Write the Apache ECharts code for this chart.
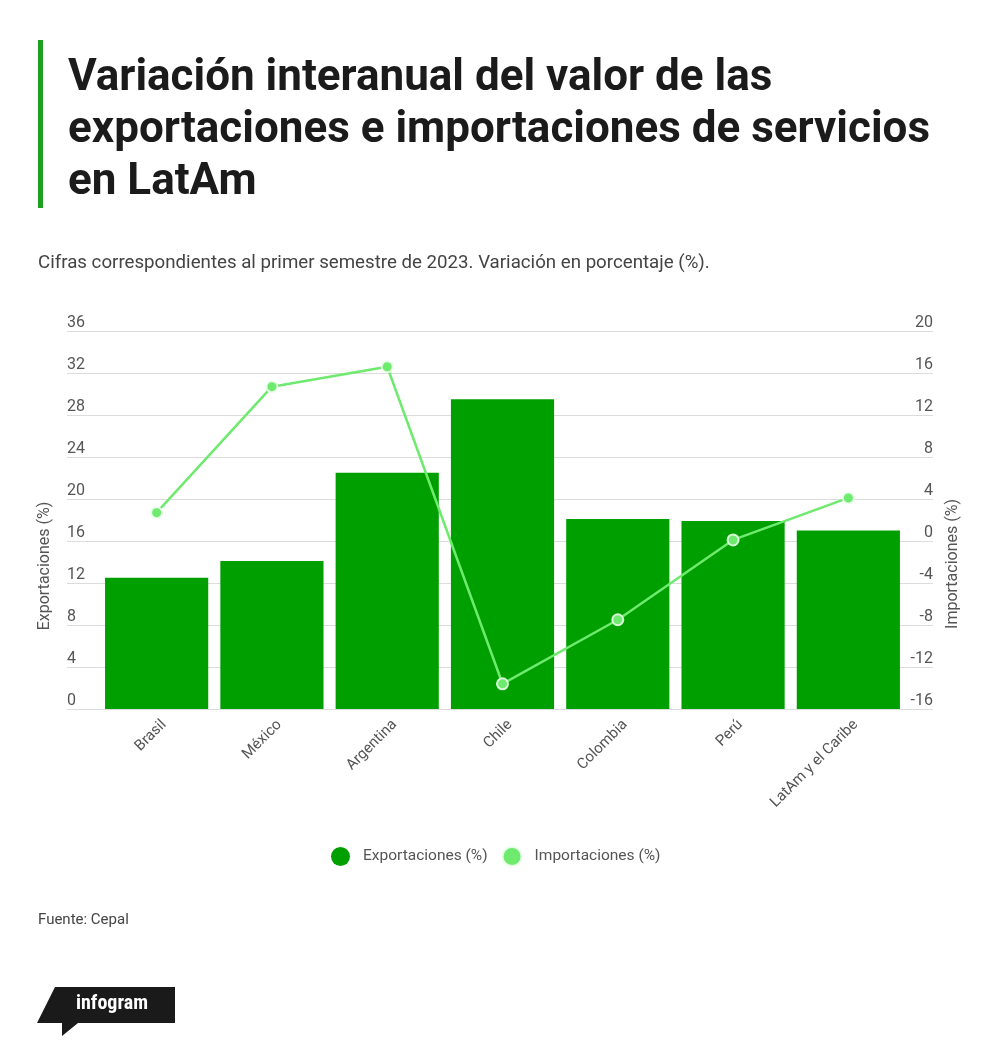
<!DOCTYPE html>
<html>
<head>
<meta charset="utf-8">
<script src="https://cdn.jsdelivr.net/npm/echarts@6/dist/echarts.min.js"></script>
<style>html,body{margin:0;padding:0;background:#fff;}#c{width:1000px;height:1056px;}</style>
</head>
<body>
<div id="c"></div>
<script>
const categories = ['Brasil', 'México', 'Argentina', 'Chile', 'Colombia', 'Perú', 'LatAm y el Caribe'];
const exportaciones = [12.5, 14.1, 22.5, 29.5, 18.1, 17.9, 17.0];
const importaciones = [2.7, 14.7, 16.6, -13.6, -7.5, 0.1, 4.1];
const leftTicks = { min: 0, max: 36, interval: 4 };
const rightTicks = { min: -16, max: 20, interval: 4 };

const titleText = 'Variación interanual del valor de las\nexportaciones e importaciones de servicios\nen LatAm';
const subtitleText = 'Cifras correspondientes al primer semestre de 2023. Variación en porcentaje (%).';

const BAR = '#009f00';
const LINE = '#6eea6e';
const LABEL = '#555555';
const FONT = 'Roboto, "Noto Sans", sans-serif';

const chart = echarts.init(document.getElementById('c'), null, { renderer: 'canvas' });

const GRID_TOP = 331, GRID_H = 378;

chart.setOption({
  backgroundColor: '#ffffff',
  animation: false,
  title: [
    {
      text: titleText,
      left: 68, top: 53, padding: 0,
      textStyle: { fontFamily: FONT, fontWeight: 700, fontSize: 44, lineHeight: 52, color: '#1b1b1b' }
    },
    {
      text: subtitleText,
      left: 38, top: 254, padding: 0,
      textStyle: { fontFamily: FONT, fontWeight: 400, fontSize: 18.7, color: '#444444' }
    },
    {
      text: 'Fuente: Cepal',
      left: 38, top: 913, padding: 0,
      textStyle: { fontFamily: FONT, fontWeight: 400, fontSize: 15, color: '#444444' }
    }
  ],
  legend: {
    data: ['Exportaciones (%)', 'Importaciones (%)'],
    left: 326, top: 841,
    icon: 'circle', itemWidth: 19, itemHeight: 19, itemGap: 14,
    textStyle: { fontFamily: FONT, fontSize: 15.5, color: LABEL, padding: [0, 0, 0, 8] }
  },
  grid: [
    { left: 67, right: 67, top: GRID_TOP, height: GRID_H, containLabel: false },
    { left: 99, right: 94, top: GRID_TOP, height: GRID_H, containLabel: false }
  ],
  xAxis: [
    { type: 'value', gridIndex: 0, show: false, min: 0, max: 1 },
    {
      type: 'category', gridIndex: 1, data: categories,
      axisLine: { show: false }, axisTick: { show: false },
      axisLabel: { rotate: 45, margin: 6, verticalAlign: 'top', padding: [3, 0, 0, 0],
                   fontFamily: FONT, fontSize: 15, color: LABEL, interval: 0 }
    }
  ],
  yAxis: [
    {
      type: 'value', gridIndex: 0, position: 'left',
      min: leftTicks.min, max: leftTicks.max, interval: leftTicks.interval,
      axisLine: { show: false }, axisTick: { show: false },
      splitLine: { show: true, lineStyle: { color: '#dcdcdc', width: 1 } },
      axisLabel: { inside: true, margin: 0, verticalAlign: 'bottom', padding: 0, lineHeight: 16,
                   fontFamily: FONT, fontSize: 16, color: LABEL }
    },
    {
      type: 'value', gridIndex: 0, position: 'right',
      min: rightTicks.min, max: rightTicks.max, interval: rightTicks.interval,
      axisLine: { show: false }, axisTick: { show: false }, splitLine: { show: false },
      axisLabel: { inside: true, margin: 0, verticalAlign: 'bottom', padding: 0, lineHeight: 16,
                   fontFamily: FONT, fontSize: 16, color: LABEL }
    },
    {
      type: 'value', gridIndex: 1, position: 'left', show: false,
      min: leftTicks.min, max: leftTicks.max, interval: leftTicks.interval, splitLine: { show: false }
    },
    {
      type: 'value', gridIndex: 1, position: 'right', show: false,
      min: rightTicks.min, max: rightTicks.max, interval: rightTicks.interval, splitLine: { show: false }
    }
  ],
  series: [
    {
      name: 'Exportaciones (%)', type: 'bar', xAxisIndex: 1, yAxisIndex: 2,
      data: exportaciones, barCategoryGap: '10.5%',
      itemStyle: { color: BAR }
    },
    {
      name: 'Importaciones (%)', type: 'line', xAxisIndex: 1, yAxisIndex: 3,
      data: importaciones,
      symbol: 'circle', symbolSize: 11, showAllSymbol: true,
      lineStyle: { color: LINE, width: 2.5 },
      itemStyle: { color: LINE, borderColor: 'rgba(235,255,235,0.9)', borderWidth: 2 },
      z: 5
    }
  ],
  graphic: [
    { type: 'rect', shape: { x: 38, y: 40, width: 5, height: 168 }, style: { fill: '#1f9e1f' } },
    { type: 'text', x: 45, y: 566, rotation: Math.PI / 2,
      style: { text: 'Exportaciones (%)', font: '16px ' + FONT, fill: LABEL, align: 'center', verticalAlign: 'middle' } },
    { type: 'text', x: 953, y: 564, rotation: Math.PI / 2,
      style: { text: 'Importaciones (%)', font: '16px ' + FONT, fill: LABEL, align: 'center', verticalAlign: 'middle' } },
    { type: 'polygon', shape: { points: [[55, 987], [175, 987], [175, 1023], [78, 1023], [62, 1036], [62, 1023], [37, 1023]] },
      style: { fill: '#1a1a1a' } },
    { type: 'text', x: 112, y: 1004,
      style: { text: 'infogram', font: 'bold 20px "Liberation Sans Narrow", "Roboto Condensed", Roboto, sans-serif', fill: '#ffffff', align: 'center', verticalAlign: 'middle' } }
  ]
});
</script>
</body>
</html>
